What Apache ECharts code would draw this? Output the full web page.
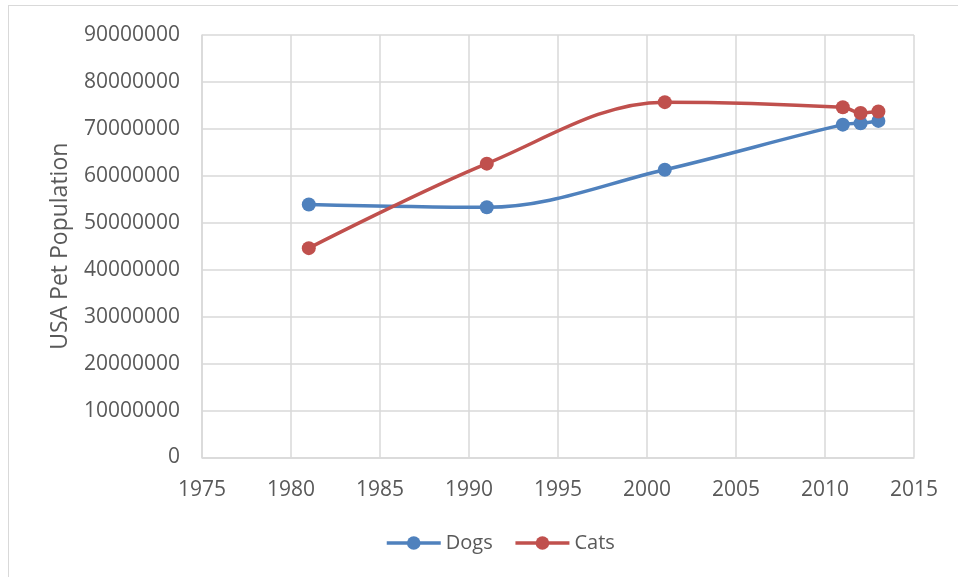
<!DOCTYPE html>
<html>
<head>
<meta charset="utf-8">
<script src="https://cdn.jsdelivr.net/npm/echarts@6/dist/echarts.min.js"></script>
<style>
  html, body { margin: 0; padding: 0; background: #fff; }
  #frame { position: absolute; left: 8px; top: 5px; width: 960px; height: 580px; border: 1px solid #d9d9d9; box-sizing: border-box; }
  #chart { width: 958px; height: 577px; }
</style>
</head>
<body>
<div id="frame"></div>
<div id="chart"></div>
<script>
const years = [1981, 1991, 2001, 2011, 2012, 2013];
const dogs = [53900000, 53300000, 61300000, 70900000, 71200000, 71700000];
const cats = [44600000, 62600000, 75700000, 74600000, 73400000, 73700000];

const font = 'Open Sans';
const textColor = '#595959';

const chart = echarts.init(document.getElementById('chart'));

function pairs(vals) {
  return years.map((y, i) => [y, vals[i]]);
}

chart.setOption({
  animation: false,
  grid: { left: 202, right: 44, top: 35, bottom: 119.5 },
  legend: {
    bottom: 19,
    left: 380,
    itemWidth: 54,
    itemHeight: 17,
    itemGap: 21,
    lineStyle: { width: 3.5 },
    textStyle: { color: textColor, fontSize: 20, fontFamily: font },
    data: ['Dogs', 'Cats']
  },
  xAxis: {
    type: 'value',
    min: 1975,
    max: 2015,
    interval: 5,
    axisLine: { lineStyle: { color: '#d9d9d9', width: 1.5 } },
    axisTick: { show: false },
    axisLabel: { color: textColor, fontSize: 21, fontFamily: font, margin: 22, formatter: v => String(v) },
    splitLine: { show: true, lineStyle: { color: '#d9d9d9', width: 1.5 } }
  },
  yAxis: {
    type: 'value',
    min: 0,
    max: 90000000,
    interval: 10000000,
    name: 'USA Pet Population',
    nameLocation: 'middle',
    nameGap: 130,
    nameTextStyle: { color: textColor, fontSize: 23, fontFamily: font },
    axisLine: { show: true, lineStyle: { color: '#d9d9d9', width: 1.5 } },
    axisTick: { show: false },
    axisLabel: { color: textColor, fontSize: 21, fontFamily: font, margin: 22, formatter: v => String(v) },
    splitLine: { show: true, lineStyle: { color: '#d9d9d9', width: 1.5 } }
  },
  series: [
    {
      name: 'Dogs',
      type: 'line',
      smooth: 0.35,
      symbol: 'circle',
      symbolSize: 14,
      color: '#4f81bd',
      lineStyle: { width: 3.5 },
      data: pairs(dogs)
    },
    {
      name: 'Cats',
      type: 'line',
      smooth: 0.35,
      symbol: 'circle',
      symbolSize: 14,
      color: '#c0504d',
      lineStyle: { width: 3.5 },
      data: pairs(cats)
    }
  ]
});
</script>
</body>
</html>
